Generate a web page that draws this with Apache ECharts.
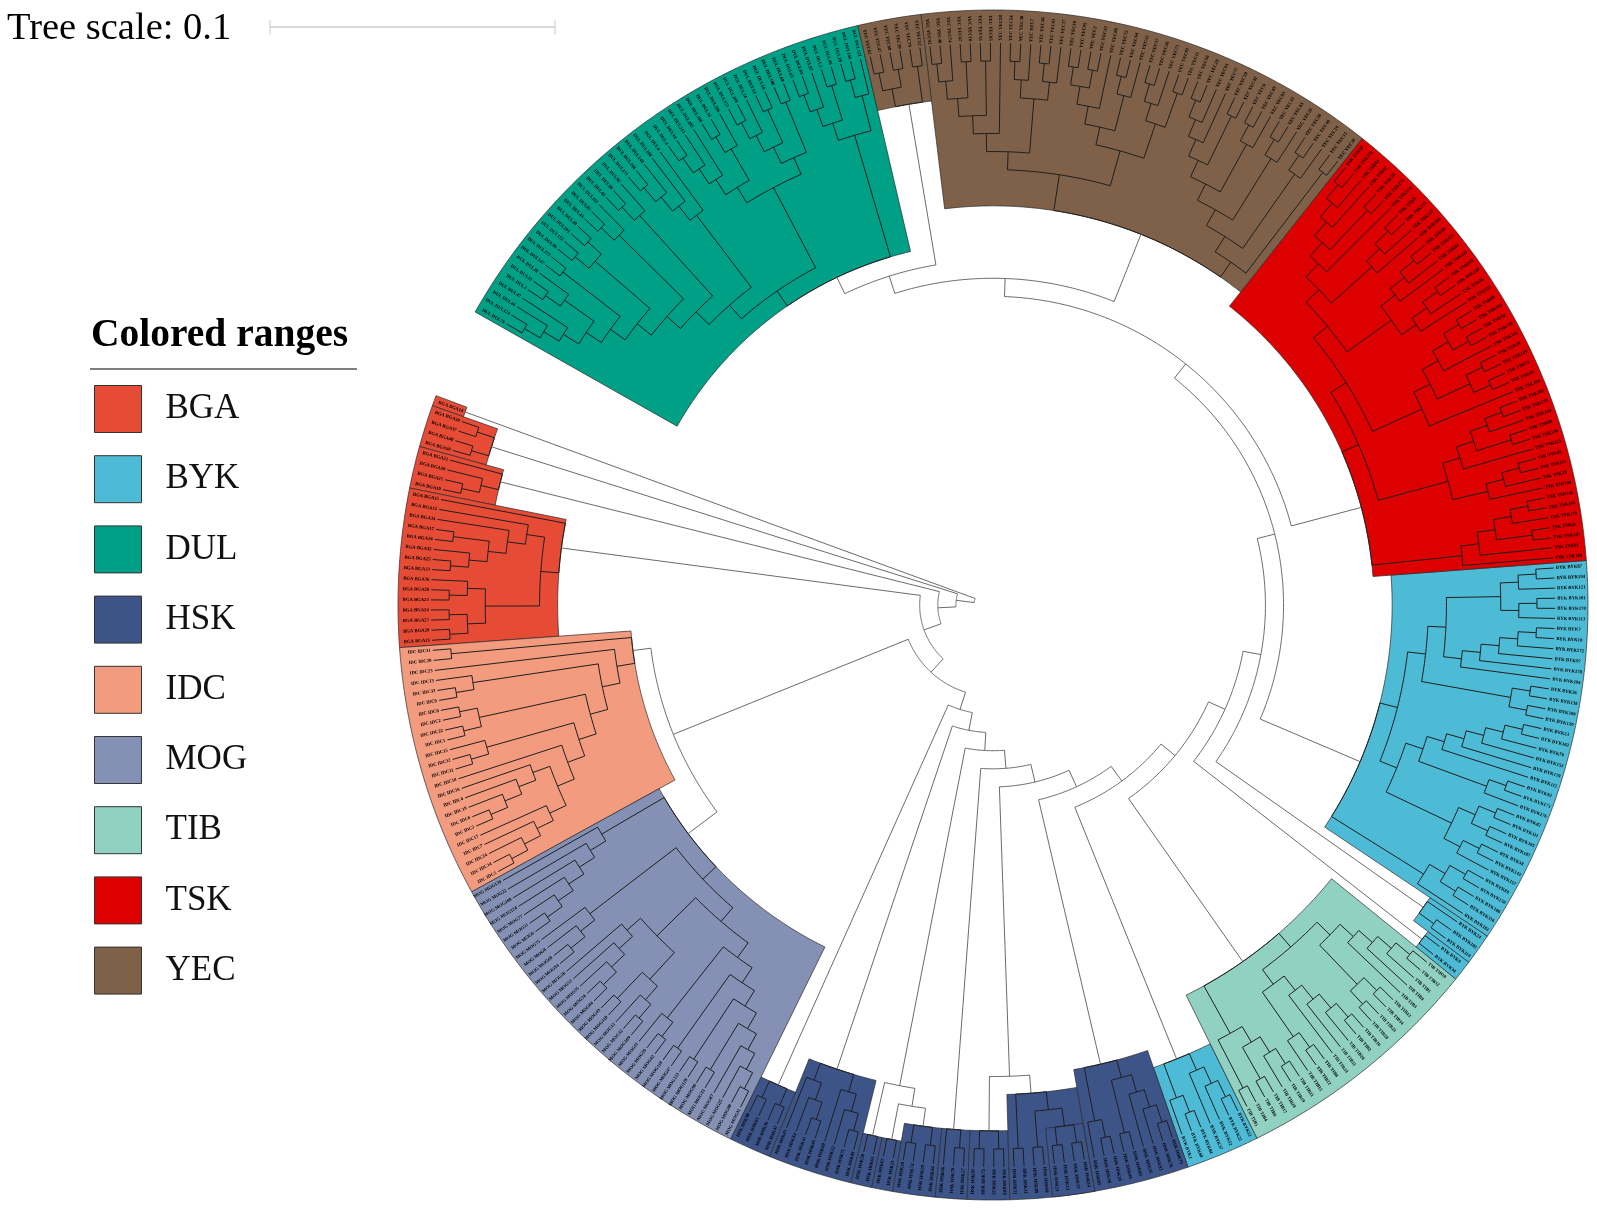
<!DOCTYPE html>
<html>
<head>
<meta charset="utf-8">
<title>Colored ranges tree</title>
<script src="https://cdn.jsdelivr.net/npm/echarts@6/dist/echarts.min.js"></script>
<style>
html, body { margin: 0; padding: 0; background: #fff; }
#main { width: 1597px; height: 1208px; }
</style>
</head>
<body>
<div id="main"></div>
<script>
// clades as nested lists, leaves are sample numbers, in order around the circle
const bga1 = [14];
const bga2 = [[39, 37], [40, 30]];
const bga3 = [22, [20, [21, 19]]];
const bga4 = [15, [[12, [34, [[17, 16], [32, [25, 33]]]]], [[36, [28, 23]], [[24, 27], [29, 13]]]]];

const idc = [[31, 20], [23, [[13, [33, 9]], [[[8, 2], [22, 1]], [[15, [32, 11]], [18, [[16, [4, [19, [6, 3]]]], [17, [7, [24, [14, 5]]]]]]]]]]];

const mog = [[139, [22, [100, [124, [77, [51, 6]]]]]],
  [[75, [8, [69, 94]]],
   [[[26, [53, [35, [24, 84]]]], [[43, 110], [12, [32, 109]]]],
    [[11, [59, 42]], [[118, 47], [[123, 129], [[98, 33], [87, [25, [90, 31]]]]]]]]]];

const hsk1 = [[90, 63], [36, 47]];
const hsk2 = [[43, [84, [41, 45]]], [69, [52, [71, 49]]]];
const hsk3 = [58, 61];
const hsk4 = [67, 21];
const hsk5 = [[18, 74], [39, 62]];
const hsk6 = [56, [79, 27]];
const hsk7 = [[97, 73], [25, 88]];
const hsk8b = [[23, 33], [13, 54]];
const hsk8 = [[31, 11], [[89, 60], hsk8b]];
const hsk9 = [[85, [16, 29]], [[99, 81], [35, [92, [76, 75]]]]];

const byk1 = [[1, [68, 84]], [37, [52, [22, 53]]]];
const byk2 = [34, 9];
const byk3 = [[114, 103], 24];
const byk4 = [[183, [[116, 106], [150, 89]]],
  [[[[157, [143, 58]], [[187, 105], [111, 82]]],
    [[176, [173, 92]], [112, [129, [152, [70, [102, 23]]]]]]],
   [[[120, 109], [138, 36]],
    [[194, [178, [97, [172, [18, 7]]]]], [[113, [170, 101]], [121, [104, 87]]]]]]];

const tib = [[[5, 4], [[6, 17], [28, [19, 21]]]],
  [[[15, [22, 8]], [24, [11, [20, [2, 16]]]]],
   [[[18, 23], [14, 13]], [3, [9, [1, [12, 10]]]]]]];

const tsk = [[169, [91, [[143, 24], [170, [166, 145]]]]],
  [[[144, [38, [151, 95]]], [125, [[136, 80], [168, [179, 163]]]]],
   [[194, [[[44, 72], [149, 59]], [141, [[130, 92], [118, 89]]]]],
    [[[122, [46, [120, 103]]], [159, [84, [175, 40]]]],
     [[164, [127, [133, 9]]], [174, [[173, 78], [97, [83, [131, 50]]]]]]]]]];

const yec1 = [[[36, 15], [[19, [44, 38]], [[25, [63, 12]], [[83, [49, 6]], [[42, 59], [77, [91, [29, 56]]]]]]]],
  [[[[11, 93], [71, [26, 57]]], [[32, [64, 72]], [88, [[41, 3], [95, 16]]]]],
   [[[17, [61, 46]], [7, [30, 54]]], [28, [[85, 55], [[10, 67], [74, [40, 92]]]]]]]];
const yec2 = [[52, 79], [[20, 68], [47, 82]]];

const dul = [[[121, [146, 18]], [[96, 5], [97, [84, 65]]]],
  [[[[68, 106], [[58, 54], [24, [208, 173]]]], [[286, [16, 186]], [205, [213, [14, 4]]]]],
   [[8, [198, [140, [196, 171]]]],
    [[96, [80, 42]],
     [[111, [85, 43]],
      [[[40, 101], [112, 86]],
       [[177, 147],
        [[20, [11, 3]], [47, [44, [124, 78]]]]]]]]]]];

// backbone joining the clades
const treeRoot = [bga1, [bga2, [bga3, [bga4, [[idc, mog],
  [hsk1, [hsk2, [[hsk3, [hsk4, hsk5]], [hsk6, [[hsk7, hsk8], [hsk9,
  [byk1, [tib, [byk2, [byk3, [byk4, [tsk, [yec1, [yec2, dul]]]]]]]]]]]]]]]]]]];

const groupNames = ['BGA', 'BYK', 'DUL', 'HSK', 'IDC', 'MOG', 'TIB', 'TSK', 'YEC'];
const groupColors = ['#E64B35', '#4DBBD5', '#00A087', '#3C5488', '#F39B7F', '#8491B4', '#91D1C2', '#DC0000', '#7E6148'];
const rangeClades = [
  ['BGA', bga1], ['BGA', bga2], ['BGA', bga3], ['BGA', bga4],
  ['IDC', idc], ['MOG', mog],
  ['HSK', hsk1], ['HSK', hsk2], ['HSK', hsk3], ['HSK', hsk4], ['HSK', hsk5], ['HSK', hsk6], ['HSK', hsk7], ['HSK', hsk8], ['HSK', hsk8b], ['HSK', hsk9],
  ['BYK', byk1], ['TIB', tib], ['BYK', byk2], ['BYK', byk3], ['BYK', byk4],
  ['TSK', tsk], ['YEC', yec1], ['YEC', yec2], ['DUL', dul]
];

const tipLevel = 30;      // every leaf sits on this level, the root is level 0
const angleSpan = 349.65; // leaf slots in a full turn, the rest of the 341 leaves is the gap

const cladeGroup = new Map(rangeClades.map(r => [r[1], r[0]]));
const cladeSpan = new Map();
const branchRows = [];
const labelRows = [];
let leafCount = 0;

function heightOf(node) {
  if (!Array.isArray(node) || node.length === 1) return 0;
  return 1 + Math.max(...node.map(heightOf));
}

function walk(node, parentLevel, parentGroup) {
  const group = cladeGroup.has(node) ? cladeGroup.get(node) : parentGroup;
  const first = leafCount;
  let level, angle;
  if (!Array.isArray(node) || node.length === 1) {
    const id = Array.isArray(node) ? node[0] : node;
    level = tipLevel;
    angle = leafCount + 0.5;
    leafCount++;
    labelRows.push([level, angle, group + ' ' + group + id]);
  } else {
    level = tipLevel - heightOf(node);
    const angles = node.map(child => walk(child, level, group));
    const a0 = angles[0], a1 = angles[angles.length - 1];
    angle = (a0 + a1) / 2;
    branchRows.push([level, a0, level, a1, group ? 1 : 0]);
  }
  if (parentLevel !== null) branchRows.push([parentLevel, angle, level, angle, parentGroup ? 1 : 0]);
  if (cladeGroup.has(node)) cladeSpan.set(node, [level, first, leafCount]);
  return angle;
}
walk(treeRoot, null, '');

function renderRange(params, api) {
  const inner = api.value(0), a0 = api.value(1), a1 = api.value(2);
  const outer = 31.82;
  const points = [];
  const steps = Math.ceil((a1 - a0) * 2);
  for (let k = 0; k <= steps; k++) points.push(api.coord([outer, a0 + (a1 - a0) * k / steps]));
  for (let k = steps; k >= 0; k--) points.push(api.coord([inner, a0 + (a1 - a0) * k / steps]));
  return {
    type: 'polygon',
    shape: { points: points },
    style: { fill: api.visual('color'), stroke: '#2b2b2b', lineWidth: 0.7 }
  };
}

function renderBranch(params, api) {
  const l0 = api.value(0), a0 = api.value(1), l1 = api.value(2), a1 = api.value(3);
  const inside = api.value(4) === 1;
  const points = [];
  if (a0 === a1) {
    points.push(api.coord([l0, a0]), api.coord([l1, a1]));
  } else {
    const steps = Math.max(2, Math.ceil((a1 - a0) * 2));
    for (let k = 0; k <= steps; k++) points.push(api.coord([l0, a0 + (a1 - a0) * k / steps]));
  }
  return {
    type: 'polyline',
    shape: { points: points },
    style: { fill: null, stroke: inside ? '#1f1f1f' : '#5a5a5a', lineWidth: inside ? 1 : 0.9 }
  };
}

function renderLabel(params, api) {
  const row = labelRows[params.dataIndex];
  const p = api.coord([row[0] + 0.12, row[1]]);
  const deg = Math.atan2(params.coordSys.cy - p[1], p[0] - params.coordSys.cx) * 180 / Math.PI;
  const right = Math.abs(deg) <= 90;
  return {
    type: 'text',
    x: p[0],
    y: p[1],
    rotation: (right ? deg : deg - 180) * Math.PI / 180,
    style: {
      text: row[2],
      fontFamily: '"Liberation Serif"',
      fontSize: 4.7,
      fontWeight: 'bold',
      fill: '#000',
      align: right ? 'left' : 'right',
      verticalAlign: 'middle'
    }
  };
}

const rangeSeries = groupNames.map((name, i) => ({
  name: name,
  type: 'custom',
  coordinateSystem: 'polar',
  renderItem: renderRange,
  encode: { radius: 0, angle: 1 },
  itemStyle: { color: groupColors[i] },
  data: rangeClades.filter(r => r[0] === name).map(r => cladeSpan.get(r[1])),
  clip: false,
  silent: true,
  z: 2
}));

const chart = echarts.init(document.getElementById('main'));
chart.setOption({
  animation: false,
  backgroundColor: '#fff',
  color: groupColors,
  title: [
    { text: 'Tree scale: 0.1', left: 2, top: 4, textStyle: { fontFamily: '"Liberation Serif"', fontWeight: 'normal', fontSize: 38.5, color: '#000' } },
    { text: 'Colored ranges', left: 86, top: 311, textStyle: { fontFamily: '"Liberation Serif"', fontWeight: 'bold', fontSize: 39.5, color: '#000' } }
  ],
  legend: {
    data: groupNames,
    orient: 'vertical',
    left: 89,
    top: 380,
    icon: 'rect',
    itemWidth: 47,
    itemHeight: 47,
    itemGap: 22.2,
    selectedMode: false,
    itemStyle: { borderColor: '#333', borderWidth: 1 },
    textStyle: { fontFamily: '"Liberation Serif"', fontSize: 35, color: '#111', padding: [0, 0, 0, 19] }
  },
  polar: { center: [993, 605], radius: 595 },
  angleAxis: {
    type: 'value',
    min: 0,
    max: angleSpan,
    startAngle: 159.4,
    clockwise: false,
    show: false
  },
  radiusAxis: {
    type: 'value',
    min: -1.05,
    max: 31.82,
    show: false
  },
  graphic: [
    { type: 'line', shape: { x1: 90, y1: 369, x2: 357, y2: 369 }, style: { stroke: '#555', lineWidth: 1.5 } },
    { type: 'line', shape: { x1: 270, y1: 27, x2: 555, y2: 27 }, style: { stroke: '#ccc', lineWidth: 1.5 } },
    { type: 'line', shape: { x1: 270, y1: 20, x2: 270, y2: 35 }, style: { stroke: '#ccc', lineWidth: 1 } },
    { type: 'line', shape: { x1: 555, y1: 20, x2: 555, y2: 35 }, style: { stroke: '#ccc', lineWidth: 1 } }
  ],
  series: rangeSeries.concat([
    {
      name: 'branches',
      type: 'custom',
      coordinateSystem: 'polar',
      renderItem: renderBranch,
      encode: { radius: 0, angle: 1 },
      data: branchRows,
      clip: false,
      silent: true,
      z: 3
    },
    {
      name: 'labels',
      type: 'custom',
      coordinateSystem: 'polar',
      renderItem: renderLabel,
      encode: { radius: 0, angle: 1 },
      data: labelRows.map(r => [r[0], r[1]]),
      clip: false,
      silent: true,
      z: 4
    }
  ])
});
</script>
</body>
</html>
